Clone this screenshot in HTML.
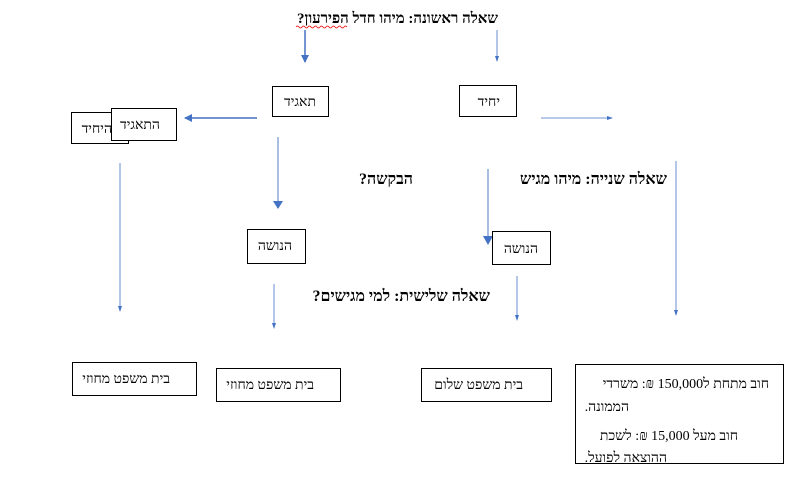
<!DOCTYPE html>
<html><head><meta charset="utf-8"><style>
html,body{margin:0;padding:0;background:#fff;}
svg{display:block;}
text{font-family:"Liberation Serif","Noto Serif CJK SC",serif;}
.b{font-weight:bold;font-size:15px;}
.b2{font-weight:bold;font-size:16px;}
.n{font-size:14px;}
</style></head><body>
<svg width="793" height="487" viewBox="0 0 793 487" xmlns="http://www.w3.org/2000/svg">
<defs>
<marker id="a" markerWidth="8" markerHeight="8" refX="7" refY="4" orient="auto" markerUnits="userSpaceOnUse"><path d="M0,0 L8,4 L0,8 z" fill="#4472c4"/></marker>
<marker id="s" markerWidth="6" markerHeight="6" refX="5" refY="3" orient="auto" markerUnits="userSpaceOnUse"><path d="M0,1 L6,3 L0,5 z" fill="#4472c4"/></marker>
</defs>
<g fill="none">
<line x1="305" y1="30" x2="305" y2="62" stroke="#4472c4" stroke-width="1.5" marker-end="url(#a)"/>
<line x1="497" y1="30" x2="497" y2="61" stroke="#4472c4" stroke-width="0.8" marker-end="url(#s)"/>
<line x1="257" y1="118" x2="185" y2="118" stroke="#4472c4" stroke-width="1.5" marker-end="url(#a)"/>
<line x1="541" y1="118" x2="612" y2="118" stroke="#4472c4" stroke-width="0.8" marker-end="url(#s)"/>
<line x1="278" y1="137" x2="278" y2="208" stroke="#a9bde3" stroke-width="2"/>
<path d="M273,201 L283,201 L278,209 z" fill="#4472c4"/>
<line x1="488" y1="169" x2="488" y2="237" stroke="#a9bde3" stroke-width="2"/>
<path d="M483,236 L493,236 L488,245 z" fill="#4472c4"/>
<line x1="120" y1="163" x2="120" y2="311" stroke="#4472c4" stroke-width="0.8" marker-end="url(#s)"/>
<line x1="676" y1="161" x2="676" y2="315" stroke="#4472c4" stroke-width="0.8" marker-end="url(#s)"/>
<line x1="274" y1="284" x2="274" y2="328" stroke="#4472c4" stroke-width="0.8" marker-end="url(#s)"/>
<line x1="517" y1="276" x2="517" y2="320" stroke="#4472c4" stroke-width="0.8" marker-end="url(#s)"/>
</g>
<g fill="#fff" stroke="#000" stroke-width="1">
<rect x="272.5" y="86.5" width="56" height="30"/>
<rect x="459.5" y="85.5" width="57" height="31"/>
<rect x="71.5" y="112.5" width="57" height="31"/>
<rect x="111.5" y="108.5" width="65" height="32"/>
<rect x="247.5" y="229.5" width="58" height="34"/>
<rect x="492.5" y="231.5" width="58" height="33"/>
<rect x="72.5" y="362.5" width="124" height="33"/>
<rect x="216.5" y="368.5" width="124" height="33"/>
<rect x="421.5" y="368.5" width="130" height="33"/>
<rect x="575.5" y="364.5" width="208" height="99"/>
</g>
<g direction="rtl" text-anchor="start" fill="#000">
<text class="b" x="498" y="23">שאלה ראשונה: מיהו חדל הפירעון?</text>
<text class="b2" x="667" y="184">שאלה שנייה: מיהו מגיש</text>
<text class="b2" x="413" y="184">הבקשה?</text>
<text class="b2" x="490" y="301">שאלה שלישית: למי מגישים?</text>
<text class="n" x="316" y="106">תאגיד</text>
<text class="n" x="500" y="106">יחיד</text>
<text class="n" x="112" y="133">היחיד</text>
<text class="n" x="160" y="129">התאגיד</text>
<text class="n" x="292" y="250">הנושה</text>
<text class="n" x="538" y="253">הנושה</text>
<text class="n" x="170" y="383">בית משפט מחוזי</text>
<text class="n" x="314" y="389">בית משפט מחוזי</text>
<text class="n" x="523" y="389">בית משפט שלום</text>
<text class="n" x="769" y="388">חוב מתחת ל150,000 ₪: משרדי</text>
<text class="n" x="629" y="411">הממונה.</text>
<text class="n" x="738" y="440">חוב מעל 15,000 ₪: לשכת</text>
<text class="n" x="667" y="462">ההוצאה לפועל.</text>
</g>
<path d="M296,27 q1.5,-2 3,0 t3,0 t3,0 t3,0 t3,0 t3,0 t3,0 t3,0 t3,0 t3,0 t3,0 t3,0 t3,0 t3,0 t3,0 t3,0 t3,0" stroke="#e00" stroke-width="0.8" fill="none"/>
</svg>
</body></html>
